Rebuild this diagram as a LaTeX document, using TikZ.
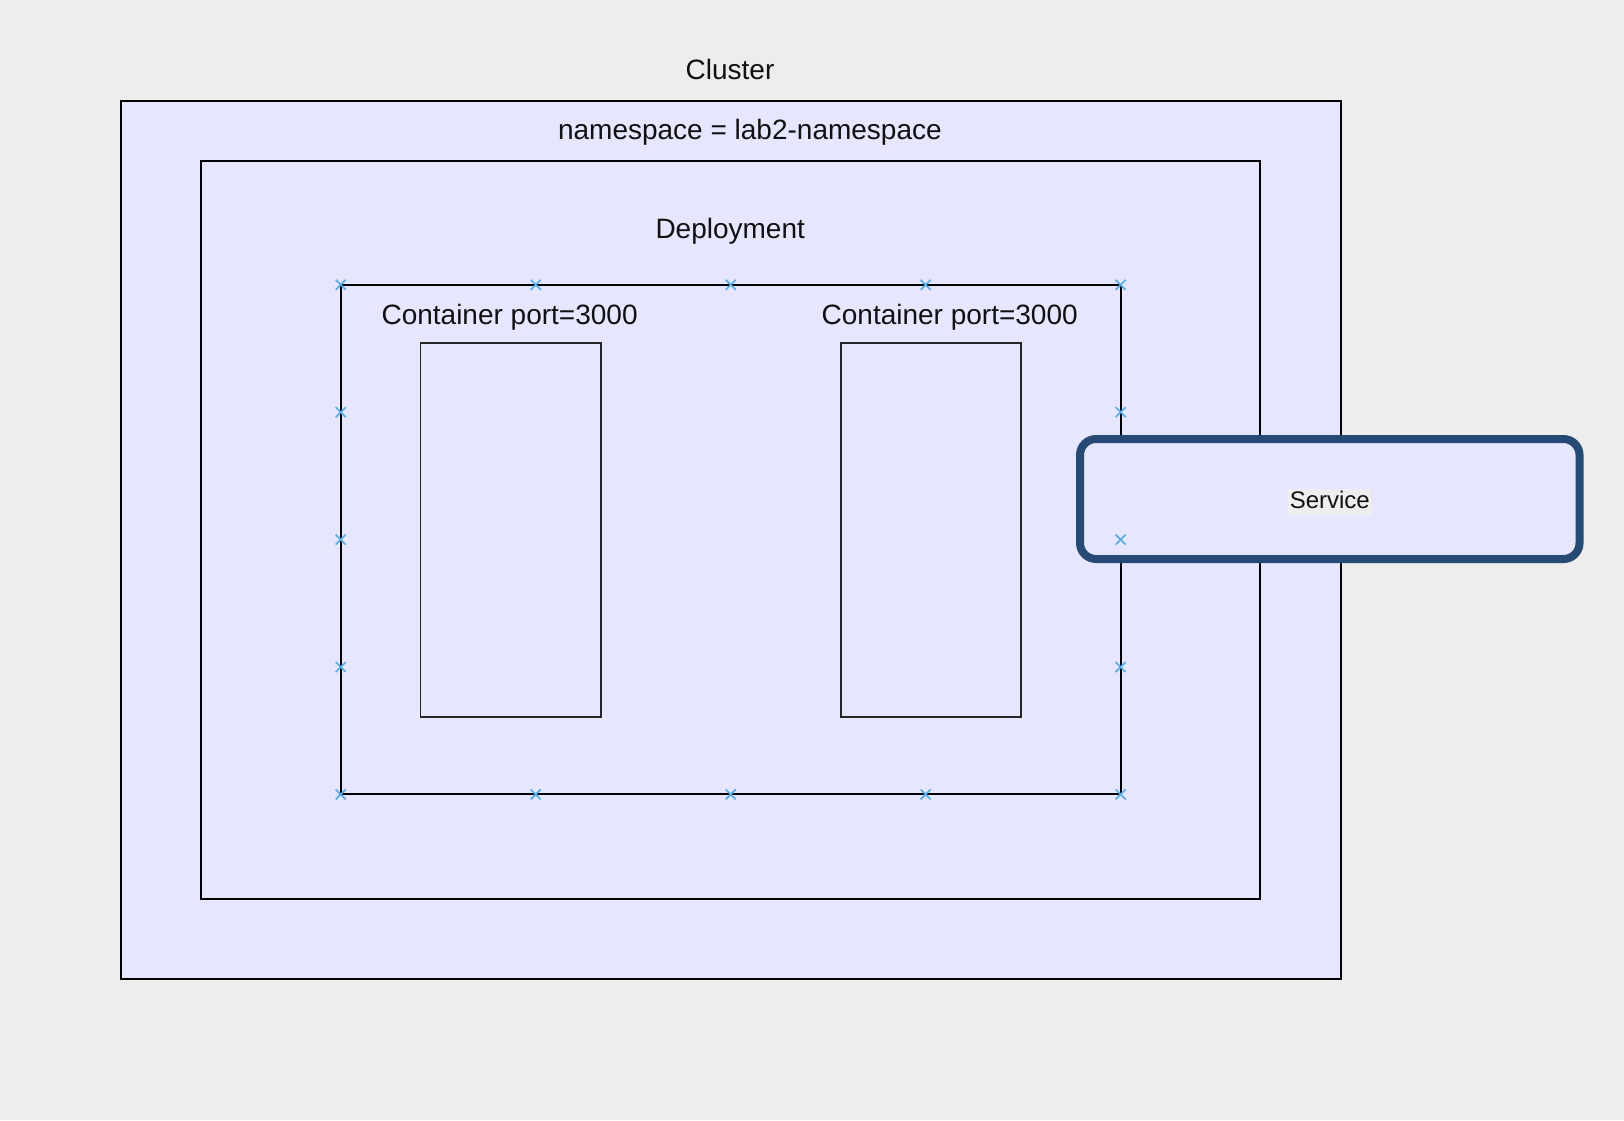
\documentclass[tikz,border=0pt]{standalone}
\usepackage{fontspec}
\setmainfont{Liberation Sans}
\definecolor{bgc}{HTML}{EDEDED}
\definecolor{boxfill}{HTML}{E6E6FF}
\definecolor{svcline}{HTML}{254A73}
\definecolor{xmark}{HTML}{4FAEEB}
\definecolor{lblbg}{HTML}{EEEEEE}
\definecolor{txt}{HTML}{111111}
\tikzset{
  frame/.style={draw=black, line width=2pt, fill=boxfill},
  cbox/.style={draw=black!85, line width=1.8pt},
  biglabel/.style={text=txt, font=\fontsize{28}{33}\selectfont, inner sep=0pt},
  svclabel/.style={text=txt, fill=lblbg, font=\fontsize{24}{28}\selectfont, inner sep=1.5pt, text height=18pt, text depth=5pt},
  svcbox/.style={draw=svcline, line width=8pt, fill=boxfill, rounded corners=16pt},
  xm/.style={xmark, line width=1.6pt}
}
\newcommand{\xmk}[2]{\draw[xm] (#1-5,#2-5) -- (#1+5,#2+5) (#1-5,#2+5) -- (#1+5,#2-5);}
\begin{document}
\begin{tikzpicture}[x=1pt,y=-1pt]
\fill[bgc] (0,0) rectangle (1624,1120);
\useasboundingbox (0,0) rectangle (1624,1120);
% cluster
\draw[frame] (121.2,100.5) rectangle (1341.2,978.7);
\node[biglabel] (cluster) at (730,69.5) {Cluster};
\node[biglabel] (ns) at (749.9,132.5) {namespace = lab2-namespace};
% deployment
\draw[frame] (200.9,160.5) rectangle (1260.4,899);
\node[biglabel] (dep) at (730.2,231.5) {Deployment};
% inner
\draw[frame] (340.7,284.8) rectangle (1120.6,794.4);
\node[biglabel] (c1lbl) at (509.6,317.5) {Container port=3000};
\node[biglabel] (c2lbl) at (949.7,317.5) {Container port=3000};
\draw[cbox] (420.5,342.8) rectangle (600.7,716.7);
\draw[cbox] (841,342.8) rectangle (1021.2,716.7);
% service
\draw[svcbox] (1080,439) rectangle (1579.5,559);
\node[svclabel] (svc) at (1329.8,501.5) {Service};
% marks
\foreach \xx in {340.7,535.7,730.7,925.6,1120.6}{
  \xmk{\xx}{284.8}
  \xmk{\xx}{794.4}
}
\foreach \yy in {412.2,539.6,667.0}{
  \xmk{340.7}{\yy}
  \xmk{1120.6}{\yy}
}
\end{tikzpicture}
\end{document}
